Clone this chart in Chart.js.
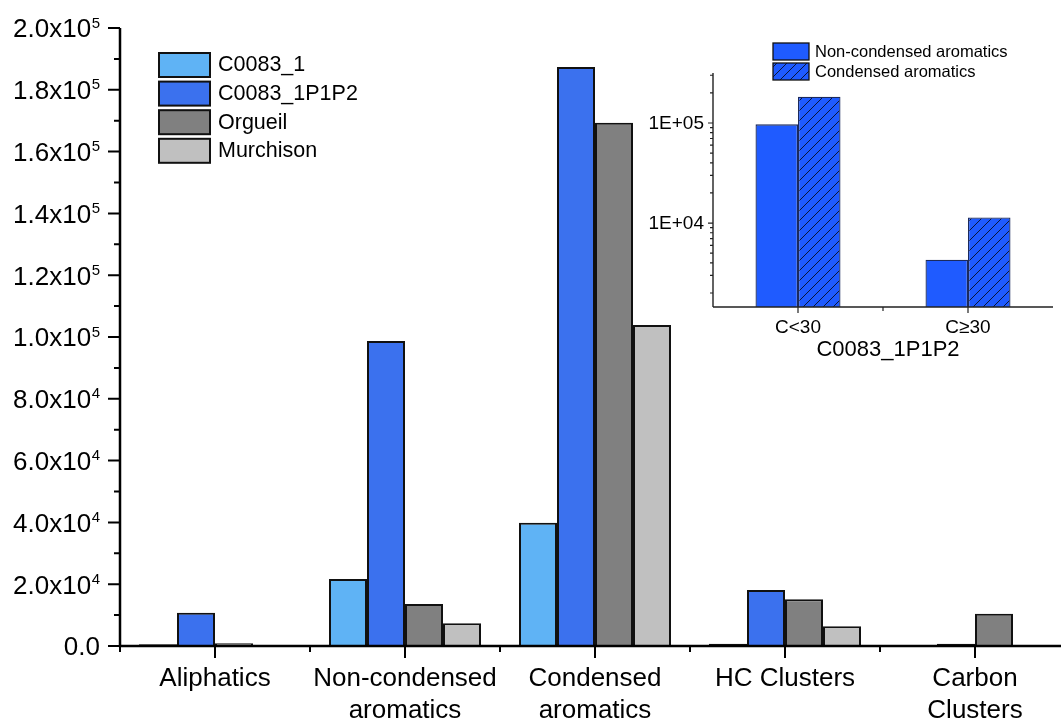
<!DOCTYPE html>
<html><head><meta charset="utf-8">
<script src="https://cdn.jsdelivr.net/npm/chart.js@4"></script>
<style>
html,body{margin:0;padding:0;overflow:hidden;background:#fff;width:1061px;height:722px}
#wrap{position:relative;width:1061px;height:722px;overflow:hidden}
#main{position:absolute;left:0;top:0}
#inset{position:absolute;left:620px;top:30px}
</style></head><body>
<div id="wrap"><canvas id="main" width="1070" height="722"></canvas><canvas id="inset" width="441" height="340"></canvas></div>
<script>
// ---------- data ----------
const categories = [['Aliphatics'], ['Non-condensed', 'aromatics'], ['Condensed', 'aromatics'], ['HC Clusters'], ['Carbon', 'Clusters']];
const seriesNames = ['C0083_1', 'C0083_1P1P2', 'Orgueil', 'Murchison'];
const c0083_1 = [600, 21700, 39900, 700, 0];
const c0083_1p1p2 = [10800, 98700, 187400, 18100, 700];
const orgueil = [900, 13600, 169300, 15100, 10400];
const murchison = [300, 7400, 103900, 6400, 0];
const yTickValues = [0, 20000, 40000, 60000, 80000, 100000, 120000, 140000, 160000, 180000, 200000];
const yTickLabels = ['0.0', '2.0x10^4', '4.0x10^4', '6.0x10^4', '8.0x10^4', '1.0x10^5', '1.2x10^5', '1.4x10^5', '1.6x10^5', '1.8x10^5', '2.0x10^5'];

const insetCategories = ['C<30', 'C\u226530'];
const insetSeriesNames = ['Non-condensed aromatics', 'Condensed aromatics'];
const insetNonCondensed = [97000, 4300];
const insetCondensed = [183000, 11400];
const insetTickValues = [10000, 100000];
const insetTickLabels = ['1E+04', '1E+05'];
const insetTitle = 'C0083_1P1P2';

// ---------- styles ----------
const FONT = "'Liberation Sans', Arial, sans-serif";
const mainColors = ['#5FB3F5', '#3B71EE', '#808080', '#C0C0C0'];
const insetBlue = '#1F5BFF';

// ---------- main chart ----------
const mainAxes = {
  id: 'mainAxes',
  afterDraw(chart) {
    const {ctx, chartArea: a, scales: {x, y}} = chart;
    ctx.save();
    ctx.strokeStyle = '#000';
    ctx.lineCap = 'butt';
    ctx.lineWidth = 2.5;
    ctx.beginPath();
    ctx.moveTo(a.left, a.top); ctx.lineTo(a.left, a.bottom + 1.25);
    ctx.moveTo(a.left - 1.25, a.bottom); ctx.lineTo(chart.width, a.bottom);
    ctx.stroke();
    ctx.lineWidth = 2;
    ctx.beginPath();
    for (let i = 0; i < yTickValues.length; i++) {
      const py = y.getPixelForValue(yTickValues[i]);
      ctx.moveTo(a.left - 12, py); ctx.lineTo(a.left, py);
      if (i < yTickValues.length - 1) {
        const pm = y.getPixelForValue((yTickValues[i] + yTickValues[i + 1]) / 2);
        ctx.moveTo(a.left - 6, pm); ctx.lineTo(a.left, pm);
      }
    }
    const n = categories.length;
    const half = (x.getPixelForValue(1) - x.getPixelForValue(0)) / 2;
    for (let i = 0; i < n; i++) {
      const px = x.getPixelForValue(i);
      ctx.moveTo(px, a.bottom); ctx.lineTo(px, a.bottom + 12);
      ctx.moveTo(px + half, a.bottom); ctx.lineTo(px + half, a.bottom + 6);
      if (i === 0) { ctx.moveTo(px - half, a.bottom); ctx.lineTo(px - half, a.bottom + 6); }
    }
    ctx.stroke();
    ctx.fillStyle = '#000';
    ctx.textBaseline = 'alphabetic';
    ctx.textAlign = 'right';
    const rightX = a.left - 20;
    for (let i = 0; i < yTickValues.length; i++) {
      const py = y.getPixelForValue(yTickValues[i]);
      const parts = yTickLabels[i].split('^');
      if (parts.length === 2) {
        ctx.font = `15px ${FONT}`;
        const w = ctx.measureText(parts[1]).width;
        ctx.fillText(parts[1], rightX, py - 0.5);
        ctx.font = `26px ${FONT}`;
        ctx.fillText(parts[0], rightX - w - 0.5, py + 9.3);
      } else {
        ctx.font = `26px ${FONT}`;
        ctx.fillText(parts[0], rightX, py + 9.3);
      }
    }
    ctx.textAlign = 'center';
    ctx.textBaseline = 'middle';
    ctx.font = `26px ${FONT}`;
    for (let i = 0; i < n; i++) {
      const px = x.getPixelForValue(i);
      categories[i].forEach((line, j) => ctx.fillText(line, px, a.bottom + 33 + j * 32));
    }
    ctx.font = `21.5px ${FONT}`;
    ctx.textAlign = 'left';
    chart.data.datasets.forEach((ds, i) => {
      const top = a.top + 25 + i * 28.6;
      ctx.fillStyle = ds.backgroundColor;
      ctx.fillRect(a.left + 39, top, 51, 24);
      ctx.lineWidth = 2;
      ctx.strokeStyle = '#111';
      ctx.strokeRect(a.left + 39, top, 51, 24);
      ctx.fillStyle = '#000';
      ctx.fillText(ds.label, a.left + 98, top + 12.5);
    });
    ctx.restore();
  }
};

const mainSeries = [c0083_1, c0083_1p1p2, orgueil, murchison];
new Chart(document.getElementById('main'), {
  type: 'bar',
  data: {
    labels: categories,
    datasets: mainSeries.map((d, i) => ({
      label: seriesNames[i],
      data: d,
      backgroundColor: mainColors[i],
      borderColor: '#111',
      borderWidth: 2,
      categoryPercentage: 0.8,
      barPercentage: 1.0
    }))
  },
  options: {
    responsive: false,
    animation: false,
    layout: {padding: {top: 28, left: 0, right: 0, bottom: 0}},
    plugins: {legend: {display: false}, tooltip: {enabled: false}, title: {display: false}},
    scales: {
      x: {
        type: 'category', offset: true,
        grid: {display: false}, border: {display: false},
        ticks: {display: false},
        afterFit(s) { s.height = 76; }
      },
      y: {
        min: 0, max: 200000,
        grid: {display: false}, border: {display: false},
        ticks: {display: false},
        afterFit(s) { s.width = 120; }
      }
    }
  },
  plugins: [mainAxes]
});

// ---------- inset chart ----------
function makeHatch() {
  const c = document.createElement('canvas');
  c.width = 10; c.height = 10;
  const g = c.getContext('2d');
  g.fillStyle = insetBlue;
  g.fillRect(0, 0, 10, 10);
  g.strokeStyle = '#0b1638';
  g.lineWidth = 1;
  g.beginPath();
  g.moveTo(0, 10); g.lineTo(10, 0);
  g.moveTo(-5, 5); g.lineTo(5, -5);
  g.moveTo(5, 15); g.lineTo(15, 5);
  g.stroke();
  return g.createPattern(c, 'repeat');
}
const hatch = makeHatch();

const insetAxes = {
  id: 'insetAxes',
  afterDraw(chart) {
    const {ctx, chartArea: a, scales: {x, y}} = chart;
    ctx.save();
    ctx.strokeStyle = '#222';
    ctx.lineWidth = 1.4;
    ctx.beginPath();
    ctx.moveTo(a.left, a.top); ctx.lineTo(a.left, a.bottom);
    ctx.moveTo(a.left, a.bottom); ctx.lineTo(a.right, a.bottom);
    ctx.stroke();
    ctx.lineWidth = 1.2;
    ctx.beginPath();
    for (let dec = 1000; dec <= 100000; dec *= 10) {
      for (let m = 1; m <= 9; m++) {
        const v = dec * m;
        if (v < y.min || v > y.max) continue;
        const py = y.getPixelForValue(v);
        const len = m === 1 ? 5 : 3;
        ctx.moveTo(a.left - len, py); ctx.lineTo(a.left, py);
      }
    }
    const half = (x.getPixelForValue(1) - x.getPixelForValue(0)) / 2;
    for (let i = 0; i < insetCategories.length; i++) {
      const px = x.getPixelForValue(i);
      ctx.moveTo(px, a.bottom); ctx.lineTo(px, a.bottom + 6);
      if (i < insetCategories.length - 1) { ctx.moveTo(px + half, a.bottom); ctx.lineTo(px + half, a.bottom + 4); }
    }
    ctx.stroke();
    ctx.fillStyle = '#000';
    ctx.font = `19px ${FONT}`;
    ctx.textAlign = 'right';
    ctx.textBaseline = 'middle';
    insetTickValues.forEach((v, i) => ctx.fillText(insetTickLabels[i], a.left - 9, y.getPixelForValue(v) + 1));
    ctx.textAlign = 'center';
    ctx.font = `19px ${FONT}`;
    insetCategories.forEach((c, i) => ctx.fillText(c, x.getPixelForValue(i), a.bottom + 21));
    ctx.font = `22px ${FONT}`;
    ctx.fillText(insetTitle, (a.left + a.right) / 2 + 5, a.bottom + 43);
    ctx.font = `16.5px ${FONT}`;
    ctx.textAlign = 'left';
    chart.data.datasets.forEach((ds, i) => {
      const top = a.top - 30 + i * 20;
      ctx.fillStyle = ds.backgroundColor;
      ctx.fillRect(a.left + 60, top, 36, 17);
      ctx.strokeStyle = '#111';
      ctx.lineWidth = 1.3;
      ctx.strokeRect(a.left + 60, top, 36, 17);
      ctx.fillStyle = '#000';
      ctx.fillText(ds.label, a.left + 102, top + 9);
    });
    ctx.restore();
  }
};

new Chart(document.getElementById('inset'), {
  type: 'bar',
  data: {
    labels: insetCategories,
    datasets: [
      {label: insetSeriesNames[0], data: insetNonCondensed, backgroundColor: insetBlue, borderColor: '#1b2a5c', borderWidth: 1.3, categoryPercentage: 0.5, barPercentage: 1.0},
      {label: insetSeriesNames[1], data: insetCondensed, backgroundColor: hatch, borderColor: '#1b2a5c', borderWidth: 1.3, categoryPercentage: 0.5, barPercentage: 1.0}
    ]
  },
  options: {
    responsive: false,
    animation: false,
    layout: {padding: {top: 43, left: 0, right: 8, bottom: 0}},
    plugins: {legend: {display: false}, tooltip: {enabled: false}},
    scales: {
      x: {type: 'category', offset: true, grid: {display: false}, border: {display: false}, ticks: {display: false}, afterFit(s) { s.height = 63; }},
      y: {type: 'logarithmic', min: 1450, max: 316000, grid: {display: false}, border: {display: false}, ticks: {display: false}, afterFit(s) { s.width = 93; }}
    }
  },
  plugins: [insetAxes]
});
</script>
</body></html>
